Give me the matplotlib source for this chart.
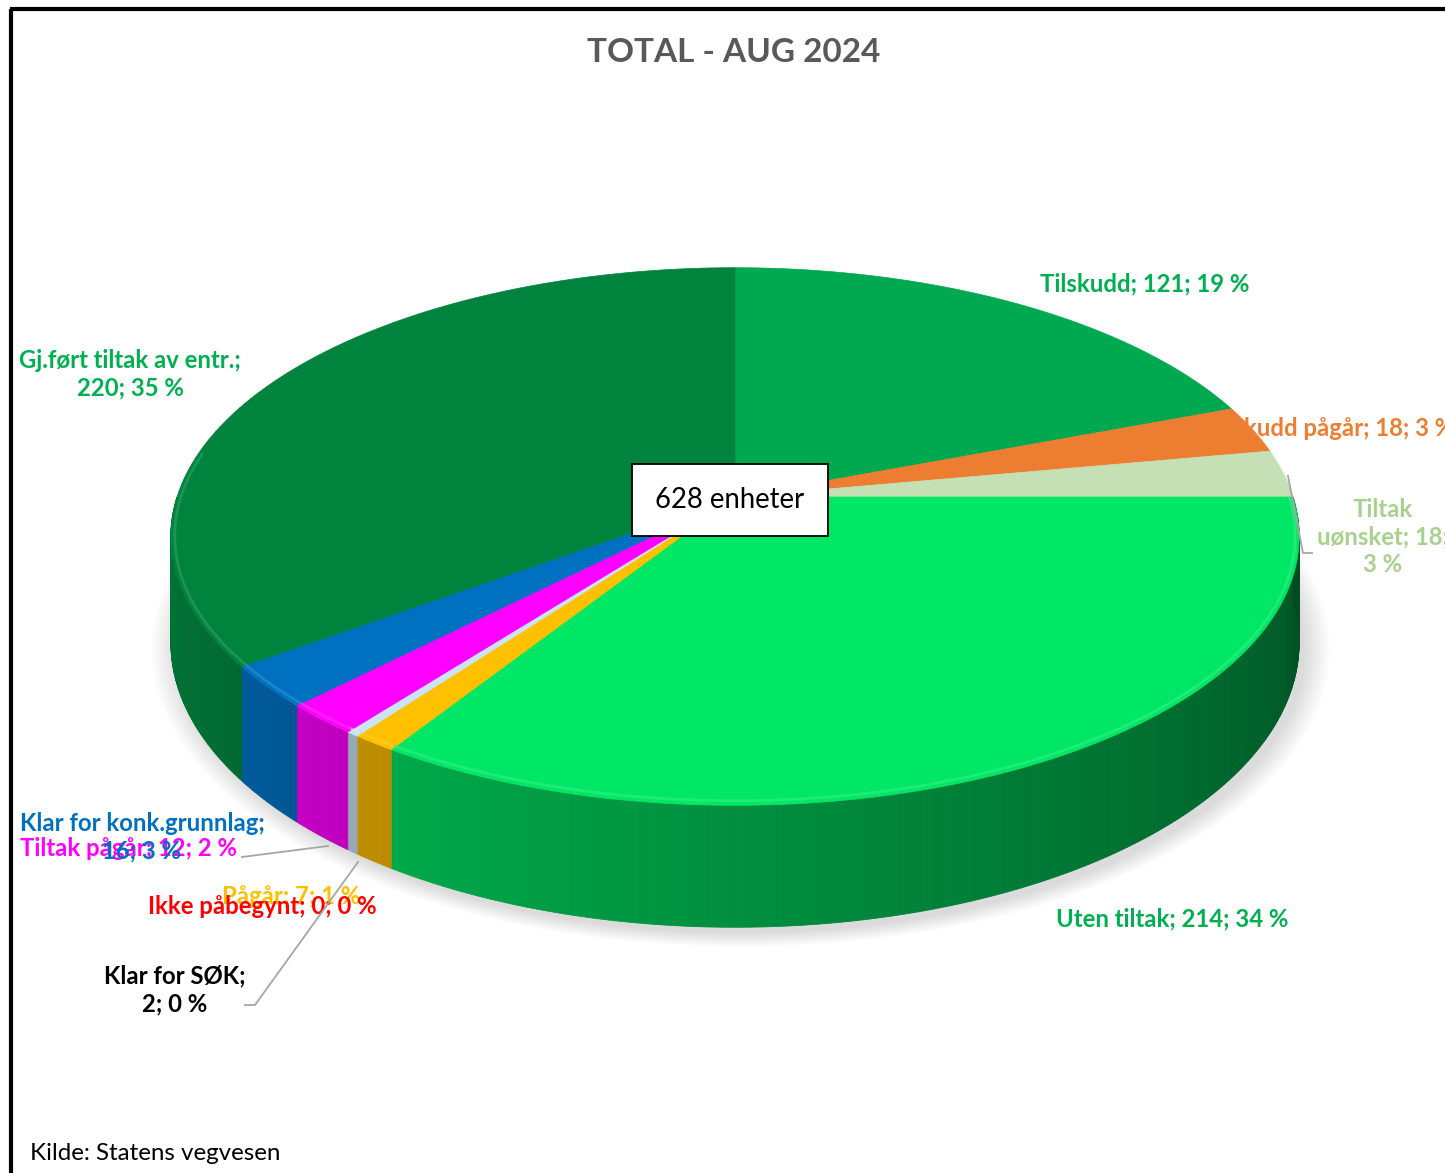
import numpy as np
import matplotlib
matplotlib.use("Agg")
import matplotlib.pyplot as plt
from matplotlib.colors import to_rgb

# slices, clockwise from 12 o'clock
categories = ["Tilskudd", "Tilskudd pågår", "Tiltak\nuønsket", "Uten tiltak", "Pågår",
              "Klar for SØK", "Ikke påbegynt", "Tiltak pågår", "Klar for konk.grunnlag",
              "Gj.ført tiltak av entr."]
values = [121, 18, 18, 214, 7, 2, 0, 12, 16, 220]
slice_colors = ["#00A94F", "#ED7D31", "#C5E0B4", "#00E765", "#FFC000",
                "#CBE3F6", "#FF0000", "#FF00FF", "#0070C0", "#00833D"]
label_colors = ["#00B050", "#ED7D31", "#A9D18E", "#00B050", "#FFC000",
                "#000000", "#FF0000", "#FF00FF", "#0070C0", "#00B050"]
# separators after the name and after the count
label_breaks = [(" ", " "), (" ", " "), (" ", "\n"), (" ", " "), (" ", " "),
                ("\n", " "), (" ", " "), (" ", " "), ("\n", " "), ("\n", " ")]
title = "TOTAL - AUG 2024"
center_text = "628 enheter"
source = "Kilde: Statens vegvesen"

# label anchors (x, y, ha)
label_pos = [(1040, 284, "left"), (1207, 428, "left"), (1383, 537, "center"),
             (1056, 919, "left"), (222, 896, "left"), (175, 990, "center"),
             (148, 906, "left"), (20, 849, "left"), (142, 837, "center"),
             (130, 374, "center")]

W, H_px = 1445, 1173
fig = plt.figure(figsize=(W / 100, H_px / 100), dpi=100)
ax = fig.add_axes([0, 0, 1, 1])
ax.set_xlim(0, W)
ax.set_ylim(H_px, 0)
ax.axis("off")

# perspective projection of the pie disc
CX, CY, A, B, K, DEPTH = 735, 497, 558, 263, 0.147, 104


def proj(theta_deg, drop=0.0):
    t = np.radians(theta_deg)
    u, v = np.cos(t), np.sin(t)
    d = 1 + K * v
    return CX + A * u / d, CY - B * v / d + drop / d


total = sum(values)
cum = np.concatenate([[0], np.cumsum(values)]) / total * 360.0

# soft shadow
ring = np.linspace(0, 360, 200)
sx, sy = proj(ring, DEPTH)
mx, my = sx.mean(), sy.mean()
for i in range(12):
    s = 1.0 + 0.004 * i
    ax.fill(mx + (sx - mx) * s + 6, my + (sy - my) * s + 6, color="#808080",
            alpha=0.025, lw=0, zorder=1.5)

# side wall (front half only)
for cw0, cw1, col in zip(cum[:-1], cum[1:], slice_colors):
    if cw1 - cw0 <= 0:
        continue
    a = (90 - cw1) % 360
    b = a + (cw1 - cw0)
    lo, hi = max(a, 180), min(b, 360)
    if hi <= lo:
        continue
    ts = np.linspace(lo, hi, max(int((hi - lo) / 0.5), 2) + 1)
    base = np.array(to_rgb(col))
    for t0, t1 in zip(ts[:-1], ts[1:]):
        f = 0.92 - 0.6 * ((t0 + t1) / 2 - 180) / 180
        c = np.clip(base * f, 0, 1)
        x0, y0 = proj(t0)
        x1, y1 = proj(t1)
        x2, y2 = proj(t1, DEPTH)
        x3, y3 = proj(t0, DEPTH)
        ax.fill([x0, x1, x2, x3], [y0, y1, y2, y3], color=c, lw=0.6,
                ec=c, zorder=2)

# top face
for cw0, cw1, col in zip(cum[:-1], cum[1:], slice_colors):
    if cw1 - cw0 <= 0:
        continue
    ts = np.linspace(90 - cw0, 90 - cw1, max(int((cw1 - cw0) / 0.5), 2) + 1)
    px, py = proj(ts)
    ax.fill(np.r_[CX, px], np.r_[CY, py], color=col, lw=0.5, ec=col, zorder=3)
    # light bevel along the rim
    a = (90 - cw1) % 360
    b = a + (cw1 - cw0)
    lo, hi = max(a, 170), min(b, 370)
    if hi > lo:
        tr = np.linspace(lo, hi, 100)
        rx, ry = proj(tr)
        rx = CX + (rx - CX) * 0.993
        ry = CY + (ry - CY) * 0.985
        light = np.clip(np.array(to_rgb(col)) * 0.75 + 0.25, 0, 1)
        ax.plot(rx, ry, color=light, lw=2.0, alpha=0.5, zorder=3.5,
                solid_capstyle="butt")

# data labels
for name, v, (s1, s2), (lx, ly, ha), lc in zip(categories, values, label_breaks,
                                                label_pos, label_colors):
    pct = round(100 * v / total)
    txt = f"{name};{s1}{v};{s2}{pct} %"
    ax.text(lx, ly, txt, color=lc, fontsize=17.2, fontweight="bold",
            family=["Lato", "DejaVu Sans"], ha=ha, va="center",
            multialignment="center", linespacing=1.25, zorder=1)

# leader lines
lead = dict(color="#A6A6A6", lw=1.3, zorder=6)
ax.plot([1288, 1303, 1312], [476, 553, 553], **lead)
ax.plot([242, 328], [857, 846], **lead)
ax.plot([245, 255, 358], [1005, 1005, 862], **lead)

ax.text(730, 500, center_text, fontsize=19.8, family="Lato", ha="center",
        va="center", zorder=8,
        bbox=dict(boxstyle="square,pad=0.85", fc="white", ec="black", lw=1.3))

ax.text(734, 52, title, fontsize=24, fontweight="bold", color="#595959",
        family="Lato", ha="center", va="center", zorder=8)
ax.text(30, 1154, source, fontsize=17.4, family="Lato", color="#000000",
        ha="left", va="center", zorder=8)

# frame (left and top edges visible)
ax.plot([11, 11], [H_px, 9], color="black", lw=3, zorder=9, solid_capstyle="butt")
ax.plot([10, W], [9, 9], color="black", lw=3, zorder=9, solid_capstyle="butt")

fig.savefig("out.png", dpi=100)
